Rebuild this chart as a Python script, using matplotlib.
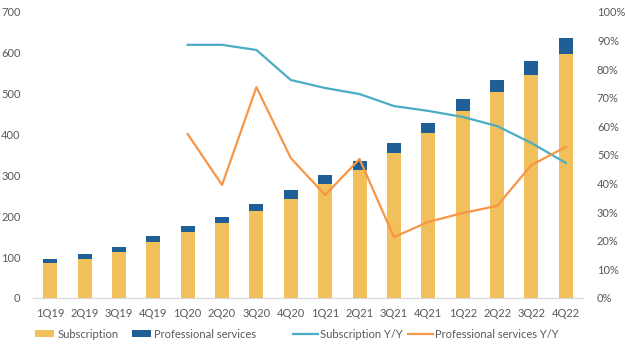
import numpy as np
import matplotlib
matplotlib.use("Agg")
import matplotlib.pyplot as plt
from matplotlib.ticker import FuncFormatter

plt.rcParams['font.family'] = ['Lato', 'DejaVu Sans']

quarters = ["1Q19", "2Q19", "3Q19", "4Q19", "1Q20", "2Q20", "3Q20", "4Q20",
            "1Q21", "2Q21", "3Q21", "4Q21", "1Q22", "2Q22", "3Q22", "4Q22"]

# revenue, $M
subscription = [86, 95, 113, 137, 161, 183, 213, 242,
                279, 313, 355, 404, 458, 504, 546, 597]
prof_services = [9, 13, 12, 15, 15, 15, 17, 22,
                 22, 22, 24, 24, 29, 30, 34, 39]

# year-over-year growth, % (starts 1Q20)
sub_yoy = [None, None, None, None, 88.5, 88.5, 86.7, 76.2,
           73.4, 71.3, 67.1, 65.4, 63.3, 60.1, 54.2, 47.2]
ps_yoy = [None, None, None, None, 57.3, 39.5, 73.7, 48.9,
          36.0, 48.6, 21.3, 26.6, 29.7, 32.2, 46.5, 52.8]

C_SUB = "#F2C05A"
C_PS = "#1F5F96"
C_SUB_YOY = "#4BACC6"
C_PS_YOY = "#F79646"
C_TEXT = "#595959"
FS = 8


def main():
    fig = plt.figure(figsize=(6.25, 3.51), dpi=100)
    ax = fig.add_axes([0.0528, 0.151, 0.88, 0.815])
    x = np.arange(len(quarters))

    ax.bar(x, subscription, width=0.41, color=C_SUB, label="Subscription")
    ax.bar(x, prof_services, width=0.41, bottom=subscription, color=C_PS,
           label="Professional services")
    ax.set_ylim(0, 700)
    ax.set_yticks(range(0, 701, 100))
    ax.set_xlim(-0.5, len(quarters) - 0.5)
    ax.set_xticks(x)
    ax.set_xticklabels(quarters)

    ax2 = ax.twinx()
    sub_y = np.array([np.nan if v is None else v for v in sub_yoy], dtype=float)
    ps_y = np.array([np.nan if v is None else v for v in ps_yoy], dtype=float)
    ax2.plot(x, sub_y, color=C_SUB_YOY, lw=1.6, label="Subscription Y/Y")
    ax2.plot(x, ps_y, color=C_PS_YOY, lw=1.6, label="Professional services Y/Y")
    ax2.set_ylim(0, 100)
    ax2.set_yticks(range(0, 101, 10))
    ax2.yaxis.set_major_formatter(FuncFormatter(lambda v, p: f"{v:.0f}%"))

    for a in (ax, ax2):
        for s in ("top", "left", "right"):
            a.spines[s].set_visible(False)
        a.spines["bottom"].set_color("#D9D9D9")
        a.tick_params(length=0, colors=C_TEXT, labelsize=FS)
    ax.tick_params(axis="y", pad=9)
    ax.tick_params(axis="x", pad=7)
    ax2.tick_params(axis="y", pad=10)

    # legend entries placed one by one, like the spreadsheet legend
    h1, l1 = ax.get_legend_handles_labels()
    h2, l2 = ax2.get_legend_handles_labels()
    handles = h1 + h2
    labels = l1 + l2
    lefts = [0.056, 0.211, 0.469, 0.653]
    hlens = [1.75, 1.75, 2.2, 2.2]
    for h, l, xl, hl in zip(handles, labels, lefts, hlens):
        leg = fig.legend([h], [l], loc="center left", bbox_to_anchor=(xl, 0.048),
                         frameon=False, fontsize=FS, borderpad=0, borderaxespad=0,
                         handlelength=hl, handleheight=0.6, handletextpad=0.25)
        for t in leg.get_texts():
            t.set_color(C_TEXT)

    fig.savefig("out.png", dpi=100)


if __name__ == "__main__":
    main()
